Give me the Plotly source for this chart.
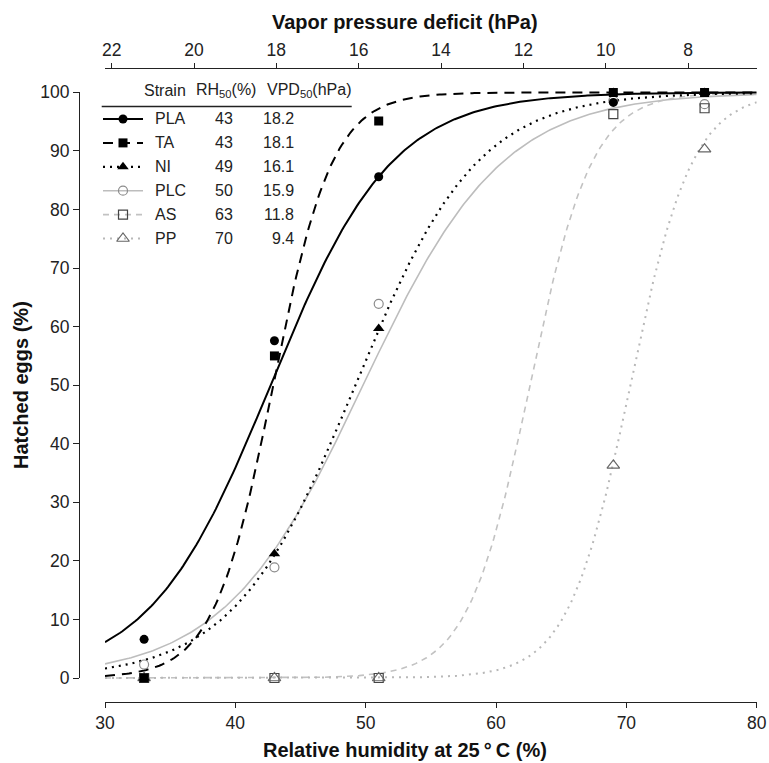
import numpy as np
import plotly.graph_objects as go

W, H = 769, 763
FONT = "Liberation Sans, Arial, Helvetica, sans-serif"

# ---------------- data ----------------
strains = ["PLA", "TA", "NI", "PLC", "AS", "PP"]
rh_obs = [33, 43, 51, 69, 76]                 # relative humidity (%)
hatched_PLA = [6.6, 57.6, 85.6, 98.3, 100.0]
hatched_TA = [0.0, 55.0, 95.1, 100.0, 100.0]
hatched_NI = [0.0, 21.2, 59.7, 100.0, 100.0]
hatched_PLC = [2.3, 18.9, 63.9, 98.6, 98.0]
hatched_AS = [0.0, 0.0, 0.0, 96.3, 97.3]
hatched_PP = [0.0, 0.0, 0.0, 36.3, 90.3]

# fitted logistic curves: RH at 50 % hatching and slope
rh50_fit = [42.7, 42.9, 49.2, 49.8, 62.6, 70.3]
slope_fit = [0.215, 0.44, 0.214, 0.187, 0.42, 0.42]

rh50_labels = ["43", "43", "49", "50", "63", "70"]
vpd50_labels = ["18.2", "18.1", "16.1", "15.9", "11.8", "9.4"]

x_ticks = [30, 40, 50, 60, 70, 80]
y_ticks = [0, 10, 20, 30, 40, 50, 60, 70, 80, 90, 100]
vpd_ticks = [22, 20, 18, 16, 14, 12, 10, 8]
ES25 = 31.66  # saturation vapour pressure at 25 degC (hPa)

series = [hatched_PLA, hatched_TA, hatched_NI, hatched_PLC, hatched_AS, hatched_PP]

styles = [
    dict(lc="#000000", dash="solid", lw=2.0, sym="circle", mc="#000000", ms=9, mlw=0),
    dict(lc="#000000", dash="10px,7px", lw=2.0, sym="square", mc="#000000", ms=9, mlw=0),
    dict(lc="#000000", dash="2px,5px", lw=2.2, sym="triangle-up", mc="#000000", ms=10, mlw=0),
    dict(lc="#bdbdbd", dash="solid", lw=1.6, sym="circle-open", mc="#8c8c8c", ms=9, mlw=1.2),
    dict(lc="#c2c2c2", dash="6px,5px", lw=1.6, sym="square-open", mc="#444444", ms=9, mlw=1.2),
    dict(lc="#b8b8b8", dash="2px,5px", lw=2.0, sym="triangle-up-open", mc="#666666", ms=11, mlw=1.2),
]

fig = go.Figure()

# ---------------- fitted curves ----------------
xs = np.linspace(30, 80, 301)
order = [3, 4, 5, 0, 1, 2]
for i in order:
    st = styles[i]
    yfit = 100.0 / (1.0 + np.exp(-slope_fit[i] * (xs - rh50_fit[i])))
    fig.add_trace(go.Scatter(x=xs, y=yfit, mode="lines", xaxis="x", yaxis="y",
                             line=dict(color=st["lc"], dash=st["dash"], width=st["lw"]),
                             hoverinfo="skip", showlegend=False))

# ---------------- observed points ----------------
for i in order:
    st = styles[i]
    fig.add_trace(go.Scatter(x=rh_obs, y=series[i], mode="markers", xaxis="x", yaxis="y",
                             marker=dict(symbol=st["sym"], color=st["mc"], size=st["ms"],
                                         line=dict(width=st["mlw"], color=st["mc"])),
                             name=strains[i], showlegend=False))

# dummy traces so that the secondary axes are drawn
fig.add_trace(go.Scatter(x=[15], y=[50], xaxis="x2", yaxis="y", mode="markers",
                         marker=dict(opacity=0), hoverinfo="skip", showlegend=False))
fig.add_trace(go.Scatter(x=[50], y=[50], xaxis="x", yaxis="y2", mode="markers",
                         marker=dict(opacity=0), hoverinfo="skip", showlegend=False))

# ---------------- legend table (pixel overlay axes) ----------------
row0, drow = 119.0, 23.9
for k in range(len(strains)):
    st = styles[k]
    yy = row0 + k * drow
    fig.add_trace(go.Scatter(x=[103, 143], y=[yy, yy], mode="lines", xaxis="x3", yaxis="y3",
                             line=dict(color=st["lc"], dash=st["dash"], width=st["lw"]),
                             hoverinfo="skip", showlegend=False))
    fig.add_trace(go.Scatter(x=[123], y=[yy], mode="markers", xaxis="x3", yaxis="y3",
                             marker=dict(symbol=st["sym"], color=st["mc"], size=st["ms"],
                                         line=dict(width=st["mlw"], color=st["mc"])),
                             hoverinfo="skip", showlegend=False))


def px(x):
    return x / W


def py(y):
    return 1 - y / H


annotations = []
tfont = dict(family=FONT, size=16, color="#222222")
annotations.append(dict(text="Strain", x=px(141.5), y=py(90.5), xanchor="left", yanchor="middle", font=tfont))
annotations.append(dict(text="RH<sub>50</sub>(%)", x=px(194), y=py(90.5), xanchor="left", yanchor="middle", font=tfont))
annotations.append(dict(text="VPD<sub>50</sub>(hPa)", x=px(265), y=py(90.5), xanchor="left", yanchor="middle", font=tfont))
for k in range(len(strains)):
    yy = row0 + k * drow
    annotations.append(dict(text=strains[k], x=px(153), y=py(yy), xanchor="left", yanchor="middle", font=tfont))
    annotations.append(dict(text=rh50_labels[k], x=px(224), y=py(yy), xanchor="center", yanchor="middle", font=tfont))
    annotations.append(dict(text=vpd50_labels[k], x=px(295.5), y=py(yy), xanchor="right", yanchor="middle", font=tfont))

bfont = dict(family=FONT, size=20, color="#111111")
annotations.append(dict(text="<b>Relative humidity at 25\u2009°\u2009C (%)</b>", x=px(405), y=py(750), xanchor="center", yanchor="middle", font=bfont))
annotations.append(dict(text="<b>Vapor pressure deficit (hPa)</b>", x=px(405), y=py(22), xanchor="center", yanchor="middle", font=bfont))
annotations.append(dict(text="<b>Hatched eggs (%)</b>", x=px(21), y=py(385), xanchor="center", yanchor="middle", textangle=-90, font=bfont))
for a in annotations:
    a.update(xref="paper", yref="paper", showarrow=False)

shapes = [dict(type="line", xref="paper", yref="paper", x0=px(101.7), x1=px(351.7), y0=py(106.5), y1=py(106.5),
               line=dict(color="#222222", width=1.5))]

axis_common = dict(showgrid=False, zeroline=False, showline=True, linecolor="#222222", linewidth=1,
                   ticks="outside", tickcolor="#222222", tickwidth=1,
                   tickfont=dict(family=FONT, size=17.5, color="#222222"))

xdom = [px(105), px(756.7)]
fig.update_layout(
    width=W, height=H, margin=dict(l=0, r=0, t=0, b=0, autoexpand=False),
    paper_bgcolor="white", plot_bgcolor="rgba(0,0,0,0)", showlegend=False,
    xaxis=dict(domain=xdom, range=[30, 80], anchor="y", side="bottom", tickvals=x_ticks, ticklen=5, **axis_common),
    xaxis2=dict(domain=xdom, range=[ES25 * (1 - 0.30), ES25 * (1 - 0.80)], overlaying="x", anchor="y",
                side="top", tickvals=vpd_ticks, ticklen=5, **axis_common),
    yaxis=dict(domain=[py(702), py(69)], range=[-4.1, 104], visible=False, fixedrange=True),
    yaxis2=dict(domain=[py(678), py(92.3)], range=[0, 100], anchor="free", position=px(79), side="left",
                tickvals=y_ticks, ticklen=6, **axis_common),
    xaxis3=dict(domain=[0, 1], range=[0, W], anchor="y3", visible=False),
    yaxis3=dict(domain=[0, 1], range=[H, 0], anchor="x3", visible=False),
    annotations=annotations, shapes=shapes,
)

fig.write_html("out.html", config={"displayModeBar": False},
               post_script="document.body.style.margin='0px';document.body.style.overflow='hidden';")
